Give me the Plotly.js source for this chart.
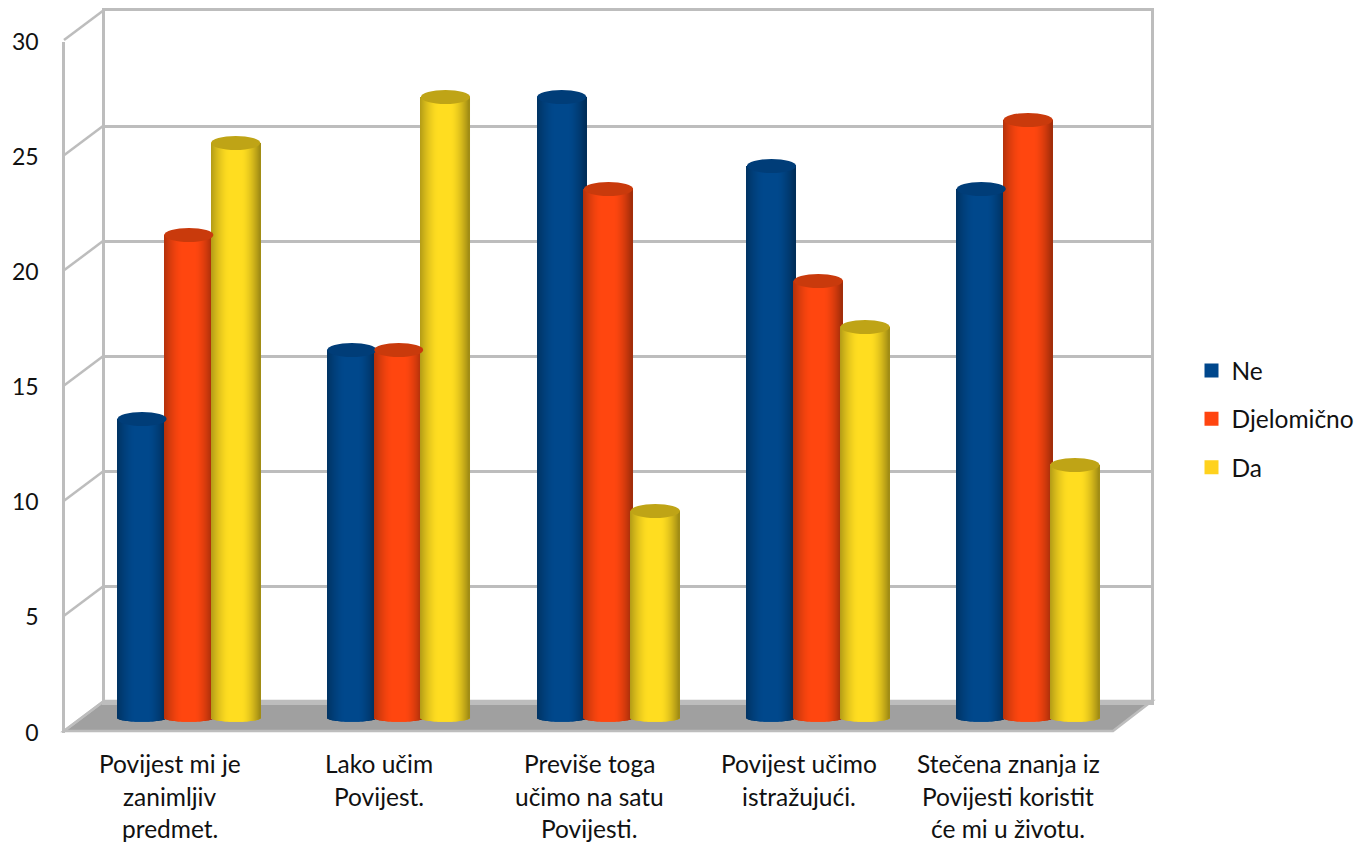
<!DOCTYPE html>
<html>
<head>
<meta charset="utf-8">
<script src="https://cdn.plot.ly/plotly-3.0.1.min.js"></script>
<style>html,body{margin:0;padding:0;background:#fff;overflow:hidden}#chart{width:1358px;height:843px;overflow:hidden}</style>
</head>
<body>
<div id="chart"></div>
<script>
// ---- data ----
const categories = [
  "Povijest mi je<br>zanimljiv<br>predmet.",
  "Lako učim<br>Povijest.",
  "Previše toga<br>učimo na satu<br>Povijesti.",
  "Povijest učimo<br>istražujući.",
  "Stečena znanja iz<br>Povijesti koristit<br>će mi u životu."
];
const seriesNames = ["Ne", "Djelomično", "Da"];
const ne = [13, 16, 27, 24, 23];
const djelomicno = [21, 16, 23, 19, 26];
const da = [25, 27, 9, 17, 11];
const yTicks = [0, 5, 10, 15, 20, 25, 30];

// ---- style ----
const W = 1376, H = 843;   // a little wider than the window so the legend's padding never shrinks the plot
const seriesValues = [ne, djelomicno, da];
const baseColors = [[0, 72, 140], [255, 70, 15], [255, 221, 32]];
const capColors = ["#003d78", "#c93a0c", "#bfa416"];
const legendColors = ["#00478c", "#ff4510", "#ffd21e"];
const FONT = "Lato, Carlito, sans-serif";
const TXT = "#111111";
const WALL = "#bdbdbd";
const px = v => v / W, py = v => 1 - v / H;
const front = {l: 64, r: 1113, b: 731, t: 40};
const back  = {l: 104, r: 1152, b: 701, t: 10};
const UNIT = 23;
const mid   = {l: 84, r: 1133, b: 718 + UNIT, t: 718 - 30 * UNIT};   // runs one unit below zero for the rounded feet
const STRIPS = 49;
const catPx = (mid.r - mid.l) / categories.length;
const barW = 49 / catPx, barStep = 46.8 / catPx;
const capH = 7 / UNIT, footH = 3.8 / UNIT;

function shade(c, t) {           // t in [-1, 1] across the cylinder
  let f;
  if (t < -0.25) f = 1 - 0.30 * Math.pow((-0.25 - t) / 0.75, 1.6);
  else if (t > 0.25) f = 1 - 0.38 * Math.pow((t - 0.25) / 0.75, 1.6);
  else f = 1;
  return "rgb(" + c.map(v => Math.round(v * f)).join(",") + ")";
}

const traces = [];
// empty helpers so the front and back-wall axes exist
traces.push({type: "scatter", mode: "lines", x: [0], y: [0], xaxis: "x", yaxis: "y", showlegend: false, hoverinfo: "skip"});
traces.push({type: "scatter", mode: "lines", x: [0], y: [0], xaxis: "x2", yaxis: "y2", showlegend: false, hoverinfo: "skip"});

const shapes = [];
seriesValues.forEach((vals, s) => {
  const off = (s - 1) * barStep;
  const xs = vals.map((_, i) => i + off);
  traces.push({
    type: "bar", name: seriesNames[s], legendgroup: seriesNames[s],
    x: xs, y: vals, width: barW - 2 / catPx, xaxis: "x3", yaxis: "y3",
    marker: {color: legendColors[s], line: {color: legendColors[s], width: 2}},
    hovertemplate: seriesNames[s] + ": %{y}<extra></extra>"
  });
  for (let j = 0; j < STRIPS; j++) {
    const t = (j + 0.5) / STRIPS * 2 - 1;
    const drop = footH * Math.sqrt(1 - t * t);
    traces.push({
      type: "bar", showlegend: false, legendgroup: seriesNames[s], hoverinfo: "skip",
      x: vals.map((_, i) => i + off + t * barW / 2),
      y: vals.map(v => v + drop),
      base: vals.map(() => -drop),
      width: barW / STRIPS * 1.02,
      xaxis: "x3", yaxis: "y3",
      marker: {color: shade(baseColors[s], t), line: {width: 0}}
    });
  }
  vals.forEach((v, i) => {
    shapes.push({
      type: "circle", xref: "x3", yref: "y3", layer: "above",
      x0: i + off - barW / 2, x1: i + off + barW / 2,
      y0: v - capH, y1: v + capH,
      fillcolor: capColors[s], line: {width: 0}
    });
  });
});

// floor
shapes.push({
  type: "path", xref: "paper", yref: "paper", layer: "below",
  path: `M${px(front.l)},${py(front.b)}L${px(front.r)},${py(front.b)}L${px(back.r)},${py(back.b)}L${px(back.l)},${py(back.b)}Z`,
  fillcolor: "#a0a0a0", line: {color: WALL, width: 2.5}
});
// side wall connectors
yTicks.forEach(v => {
  const fy = front.b + (front.t - front.b) * v / 30;
  const by = back.b + (back.t - back.b) * v / 30;
  shapes.push({
    type: "line", xref: "paper", yref: "paper", layer: "below",
    x0: px(front.l), y0: py(fy), x1: px(back.l), y1: py(by),
    line: {color: WALL, width: 2.5}
  });
});

// category labels, one annotation per line
const annotations = [];
categories.forEach((c, i) => {
  c.split("<br>").forEach((line, k) => {
    annotations.push({
      text: line, xref: "x", yref: "paper", x: i, y: py(763.5 + 32.5 * k),
      showarrow: false, xanchor: "center", yanchor: "middle",
      font: {family: FONT, size: 24.5, color: TXT}
    });
  });
});

const hiddenX = {range: [-0.5, 4.5], showgrid: false, zeroline: false, showticklabels: false, ticks: "", showline: false, fixedrange: true};
const layout = {
  width: W, height: H,
  margin: {l: 0, r: 0, t: 0, b: 0},
  paper_bgcolor: "#fff", plot_bgcolor: "rgba(0,0,0,0)",
  barmode: "overlay",
  showlegend: true,
  hovermode: "closest",
  legend: {
    x: px(1191.5), y: py(348), xanchor: "left", yanchor: "top",
    font: {family: FONT, size: 24.5, color: TXT},
    tracegroupgap: 13.5, traceorder: "grouped",
    bgcolor: "rgba(0,0,0,0)", borderwidth: 0, itemwidth: 30
  },
  xaxis: Object.assign({}, hiddenX, {domain: [px(front.l + 1), px(front.r)], anchor: "y"}),
  yaxis: {
    domain: [py(front.b + 1.5), py(front.t + 1.5)], range: [0, 30], anchor: "x",
    tickvals: yTicks, ticktext: yTicks.map(String), showgrid: false, zeroline: false,
    showline: true, linecolor: WALL, linewidth: 2.5, ticks: "", ticklabelstandoff: 19,
    tickfont: {family: FONT, size: 23, color: TXT}, fixedrange: true
  },
  xaxis2: Object.assign({}, hiddenX, {domain: [px(back.l + 1), px(back.r - 1)], anchor: "y2", showline: true, mirror: true, linecolor: WALL, linewidth: 2.5}),
  yaxis2: {
    domain: [py(back.b + 1), py(back.t + 1)], range: [0, 30], anchor: "x2",
    tickvals: yTicks, showticklabels: false, showgrid: true, gridcolor: WALL, gridwidth: 2.5,
    zeroline: false, showline: true, mirror: true, linecolor: WALL, linewidth: 2.5, ticks: "", fixedrange: true
  },
  xaxis3: Object.assign({}, hiddenX, {domain: [px(mid.l), px(mid.r)], anchor: "y3"}),
  yaxis3: {
    domain: [py(mid.b), py(mid.t)], range: [-1, 30], anchor: "x3",
    showticklabels: false, showgrid: false, zeroline: false, showline: false, ticks: "", fixedrange: true
  },
  shapes: shapes,
  annotations: annotations
};
Plotly.newPlot("chart", traces, layout, {displayModeBar: false, responsive: false});
</script>
</body>
</html>
